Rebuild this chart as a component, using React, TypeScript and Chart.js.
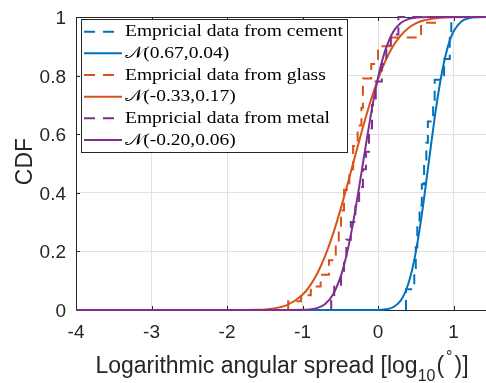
import React, { useEffect, useRef } from "react";
import { Chart, registerables } from "chart.js";

Chart.register(...registerables);

// ---------- data ----------
const xTicks = [-4, -3, -2, -1, 0, 1];
const yTicks = [0, 0.2, 0.4, 0.6, 0.8, 1];
const yTickLabels = ["0", "0.2", "0.4", "0.6", "0.8", "1"];
const xTickLabels = ["-4", "-3", "-2", "-1", "0", "1"];

const cementEmpX = [0.37, 0.37, 0.48, 0.5, 0.52, 0.55, 0.58, 0.61, 0.64, 0.66, 0.73, 0.75, 0.875, 0.95, 0.97, 1.5];
const cementEmpY = [0, 0.071, 0.143, 0.214, 0.286, 0.357, 0.429, 0.5, 0.571, 0.643, 0.714, 0.786, 0.857, 0.929, 1.0, 1.0];

const cementFitX = [-4, 0, 0.1, 0.2, 0.3, 0.35, 0.4, 0.45, 0.5, 0.55, 0.6, 0.65, 0.7, 0.75, 0.8, 0.85, 0.9, 0.95, 1.0, 1.1, 1.2, 1.3, 1.5];
const cementFitY = [0, 0.0004, 0.0022, 0.0094, 0.0322, 0.0548, 0.0885, 0.1357, 0.1977, 0.2743, 0.3632, 0.4602, 0.5596, 0.6554, 0.7422, 0.8159, 0.8749, 0.9192, 0.9505, 0.9842, 0.996, 0.9992, 1];

const glassEmpX = [-1.19, -1.19, -1.02, -0.89, -0.76, -0.65, -0.56, -0.52, -0.49, -0.45, -0.38, -0.33, -0.27, -0.22, -0.2, -0.09, 0.0, 0.15, 0.57, 0.8, 1.5];
const glassEmpY = [0, 0.03, 0.05, 0.08, 0.12, 0.17, 0.22, 0.28, 0.34, 0.41, 0.48, 0.56, 0.63, 0.69, 0.79, 0.84, 0.9, 0.93, 0.98, 1.0, 1.0];

const glassFitX = [-4, -2.0, -1.6, -1.4, -1.2, -1.0, -0.9, -0.8, -0.7, -0.6, -0.5, -0.4, -0.3, -0.2, -0.1, 0, 0.1, 0.2, 0.3, 0.4, 0.5, 0.6, 0.8, 1.0, 1.5];
const glassFitY = [0, 0.00003, 0.001, 0.0047, 0.0174, 0.0521, 0.0834, 0.1271, 0.1848, 0.2563, 0.3401, 0.4325, 0.529, 0.6237, 0.7116, 0.7882, 0.8515, 0.9007, 0.9367, 0.9617, 0.978, 0.988, 0.9969, 0.9994, 1];

const metalEmpX = [-0.62, -0.62, -0.58, -0.49, -0.45, -0.42, -0.36, -0.3, -0.25, -0.2, -0.16, -0.12, -0.08, -0.03, 0.05, 0.11, 0.17, 0.27, 1.5];
const metalEmpY = [0, 0.04, 0.08, 0.13, 0.18, 0.24, 0.3, 0.36, 0.42, 0.48, 0.54, 0.62, 0.7, 0.78, 0.84, 0.89, 0.94, 1.0, 1.0];

const metalFitX = [-4, -1.2, -1.0, -0.9, -0.8, -0.7, -0.6, -0.5, -0.45, -0.4, -0.35, -0.3, -0.25, -0.2, -0.15, -0.1, -0.05, 0, 0.05, 0.1, 0.2, 0.3, 0.4, 0.5, 0.7, 1.5];
const metalFitY = [0, 0.00002, 0.0005, 0.0021, 0.0071, 0.0206, 0.0512, 0.1103, 0.1536, 0.207, 0.2701, 0.3415, 0.4191, 0.5, 0.5809, 0.6585, 0.7299, 0.793, 0.8464, 0.8897, 0.9488, 0.9794, 0.9929, 0.9979, 0.9999, 1];

const legendLabels = [
  "Empricial data from cement",
  "𝒩(0.67,0.04)",
  "Empricial data from glass",
  "𝒩(-0.33,0.17)",
  "Empricial data from metal",
  "𝒩(-0.20,0.06)",
];

const xTitle = "Logarithmic angular spread [log";
const yTitle = "CDF";

// ---------- styles ----------
const BLUE = "#0072BD";
const ORANGE = "#D95319";
const PURPLE = "#7E2F8E";
const AXIS = "#262626";
const GRID = "#e1e1e1";
const DASH = [10, 7];

const toPts = (xs: number[], ys: number[]) => xs.map((x, i) => ({ x, y: ys[i] }));

const decor = {
  id: "decor",
  beforeDatasetsDraw(chart: any) {
    const { ctx, chartArea: a, scales } = chart;
    const xs = scales.x, ys = scales.y;
    ctx.save();
    ctx.strokeStyle = AXIS;
    ctx.lineWidth = 1;
    ctx.beginPath();
    ctx.moveTo(a.left, a.top + 0.5);
    ctx.lineTo(a.right, a.top + 0.5);
    ctx.stroke();
    ctx.beginPath();
    for (const v of xTicks) {
      const px = Math.round(xs.getPixelForValue(v)) + 0.5;
      ctx.moveTo(px, a.bottom);
      ctx.lineTo(px, a.bottom - 4);
      ctx.moveTo(px, a.top);
      ctx.lineTo(px, a.top + 4);
    }
    for (const v of yTicks) {
      const py = Math.round(ys.getPixelForValue(v)) + 0.5;
      ctx.moveTo(a.left, py);
      ctx.lineTo(a.left + 4, py);
    }
    ctx.stroke();
    ctx.restore();
  },
  afterDraw(chart: any) {
    const { ctx, chartArea: a, scales } = chart;
    const xs = scales.x, ys = scales.y;
    ctx.save();
    ctx.fillStyle = AXIS;
    ctx.font = '19px "Liberation Sans", Arial, sans-serif';
    // y tick labels
    ctx.textAlign = "right";
    ctx.textBaseline = "alphabetic";
    yTicks.forEach((v, i) => {
      const py = ys.getPixelForValue(v);
      ctx.fillText(yTickLabels[i], a.left - 10, py + 7);
    });
    // x tick labels
    ctx.textAlign = "center";
    xTicks.forEach((v, i) => {
      const px = xs.getPixelForValue(v);
      ctx.fillText(xTickLabels[i], px, 338);
    });
    // y title
    ctx.save();
    ctx.font = '23px "Liberation Sans", Arial, sans-serif';
    ctx.translate(32, 161.5);
    ctx.rotate(-Math.PI / 2);
    ctx.textAlign = "center";
    ctx.fillText(yTitle, 0, 0);
    ctx.restore();
    // x title
    const big = '23px "Liberation Sans", Arial, sans-serif';
    const small = '16px "Liberation Sans", Arial, sans-serif';
    const parts = [
      { t: xTitle, f: big, dy: 0, gap: 0 },
      { t: "10", f: small, dy: 8, gap: 0 },
      { t: "(", f: big, dy: 0, gap: 1 },
      { t: "°", f: small, dy: -11, gap: 2 },
      { t: ")]", f: big, dy: 0, gap: 2 },
    ];
    let total = 0;
    const widths = parts.map((p) => {
      ctx.font = p.f;
      const w = ctx.measureText(p.t).width;
      total += w + p.gap;
      return w;
    });
    let cx = 282 - total / 2;
    ctx.textAlign = "left";
    parts.forEach((p, i) => {
      cx += p.gap;
      ctx.font = p.f;
      ctx.fillText(p.t, cx, 373 + p.dy);
      cx += widths[i];
    });

    // legend
    const lx = 81, ly = 19, lw = 267, lh = 134;
    ctx.fillStyle = "#fff";
    ctx.fillRect(lx, ly, lw, lh);
    ctx.strokeStyle = AXIS;
    ctx.lineWidth = 1;
    ctx.strokeRect(lx + 0.5, ly + 0.5, lw - 1, lh - 1);
    const ds = chart.data.datasets;
    const serif = '16px "Liberation Serif", "Times New Roman", serif';
    ctx.font = serif;
    const sx = 218 / ctx.measureText(legendLabels[0]).width;
    legendLabels.forEach((lab, i) => {
      const y = 31.7 + i * 21.66;
      const d = ds[i];
      ctx.save();
      ctx.strokeStyle = d.borderColor;
      ctx.lineWidth = 2;
      ctx.setLineDash(d.borderDash && d.borderDash.length ? [11, 8] : []);
      ctx.beginPath();
      ctx.moveTo(84, y);
      ctx.lineTo(122, y);
      ctx.stroke();
      ctx.restore();
      ctx.save();
      ctx.fillStyle = "#000";
      ctx.translate(125, y + 4.5);
      ctx.scale(sx, 1);
      ctx.textAlign = "left";
      ctx.font = serif;
      ctx.fillText(lab, 0, 0);
      ctx.restore();
    });
    ctx.restore();
  },
};

export default function App() {
  const ref = useRef<HTMLCanvasElement>(null);
  useEffect(() => {
    const common = { pointRadius: 0, borderWidth: 2, fill: false, clip: 3 };
    const chart = new Chart(ref.current as HTMLCanvasElement, {
      type: "line",
      data: {
        datasets: [
          { ...common, label: legendLabels[0], data: toPts(cementEmpX, cementEmpY), borderColor: BLUE, borderDash: DASH, stepped: true, order: 5 },
          { ...common, label: legendLabels[1], data: toPts(cementFitX, cementFitY), borderColor: BLUE, borderDash: [], cubicInterpolationMode: "monotone", order: 4 },
          { ...common, label: legendLabels[2], data: toPts(glassEmpX, glassEmpY), borderColor: ORANGE, borderDash: DASH, stepped: true, order: 3 },
          { ...common, label: legendLabels[3], data: toPts(glassFitX, glassFitY), borderColor: ORANGE, borderDash: [], cubicInterpolationMode: "monotone", order: 2 },
          { ...common, label: legendLabels[4], data: toPts(metalEmpX, metalEmpY), borderColor: PURPLE, borderDash: DASH, stepped: true, order: 1 },
          { ...common, label: legendLabels[5], data: toPts(metalFitX, metalFitY), borderColor: PURPLE, borderDash: [], cubicInterpolationMode: "monotone", order: 0 },
        ] as any,
      },
      options: {
        responsive: false,
        animation: false,
        devicePixelRatio: 1,
        layout: { padding: { top: 17, left: 0, right: 0, bottom: 0 } },
        plugins: { legend: { display: false }, tooltip: { enabled: false } },
        scales: {
          x: {
            type: "linear",
            min: -4,
            max: 1.43,
            afterBuildTicks: (s: any) => { s.ticks = xTicks.map((v) => ({ value: v })); },
            afterFit: (s: any) => { s.height = 73; },
            ticks: { display: false },
            grid: { color: GRID, drawTicks: false, lineWidth: 1 },
            border: { display: true, color: AXIS, width: 1 },
          },
          y: {
            type: "linear",
            min: 0,
            max: 1,
            afterBuildTicks: (s: any) => { s.ticks = yTicks.map((v) => ({ value: v })); },
            afterFit: (s: any) => { s.width = 76; },
            ticks: { display: false },
            grid: { color: GRID, drawTicks: false, lineWidth: 1 },
            border: { display: true, color: AXIS, width: 1 },
          },
        },
      } as any,
      plugins: [decor],
    });
    return () => chart.destroy();
  }, []);
  return (
    <div style={{ position: "fixed", left: 0, top: 0, width: 486, height: 383, background: "#fff" }}>
      <canvas ref={ref} width={486} height={383} style={{ display: "block" }} />
    </div>
  );
}
